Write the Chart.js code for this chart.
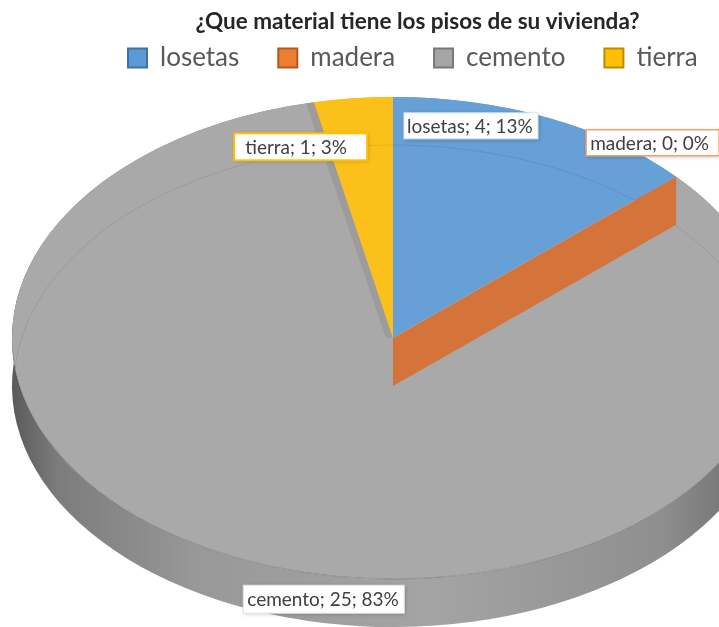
<!DOCTYPE html>
<html>
<head>
<meta charset="utf-8">
<script src="https://cdn.jsdelivr.net/npm/chart.js@4"></script>
<style>
  html, body { margin: 0; padding: 0; background: #ffffff; }
  #wrap { width: 719px; height: 627px; position: relative; overflow: hidden; }
</style>
</head>
<body>
<div id="wrap"><canvas id="c"></canvas></div>
<script>
// ---- data ----
const categories = ['losetas', 'madera', 'cemento', 'tierra'];
const counts = [4, 0, 25, 1];
const titleText = '¿Que material tiene los pisos de su vivienda?';

// ---- styles ----
const topColors = ['#66a0d6', '#ed7d31', '#a9a9a9', '#fcc01b'];
const legendFill = ['#5b9bd5', '#ed7d31', '#a5a5a5', '#ffc000'];
const legendBorder = ['#41719c', '#ae5a21', '#787878', '#bc8c00'];
const geom = { cx: 393, cy: 338, rx: 381, ry: 241, depth: 48 };
const labelStyles = [
  { nudge: [-77, 8], w: 134, h: 26, border: '#dbe6f1', bw: 1, pad: 3 },
  { nudge: [-23.5, -34], w: 133, h: 26, border: '#f2a26a', bw: 1.5, pad: 4 },
  { nudge: [48.5, 32], w: 161, h: 28, border: '#e4e4e4', bw: 1, pad: 4 },
  { nudge: [-52.5, 48.5], w: 133, h: 27, border: '#ffc000', bw: 2, pad: 11 }
];
const labelFont = '19px Lato';
const labelColor = '#404040';

const total = counts.reduce((a, b) => a + b, 0);

function ellPt(a, dy) {
  return [geom.cx + geom.rx * Math.cos(a), geom.cy + geom.ry * Math.sin(a) + (dy || 0)];
}

const pie3d = {
  id: 'pie3d',
  beforeDatasetsDraw(chart) {
    const ctx = chart.ctx;
    const arcs = chart.getDatasetMeta(0).data;
    const T = geom.depth;
    ctx.save();
    const g = ctx.createLinearGradient(geom.cx - geom.rx, 0, geom.cx + geom.rx, 0);
    g.addColorStop(0, '#5a5a5a');
    g.addColorStop(0.06, '#7c7c7c');
    g.addColorStop(0.25, '#999999');
    g.addColorStop(0.55, '#a4a4a4');
    g.addColorStop(0.85, '#8f8f8f');
    g.addColorStop(1, '#666666');
    arcs.forEach((arc, i) => {
      if (arc.endAngle - arc.startAngle <= 0) return;
      ctx.beginPath();
      ctx.ellipse(geom.cx, geom.cy, geom.rx, geom.ry, 0, arc.startAngle, arc.endAngle);
      ctx.ellipse(geom.cx, geom.cy + T, geom.rx, geom.ry, 0, arc.endAngle, arc.startAngle, true);
      ctx.closePath();
      ctx.fillStyle = i === 2 ? g : topColors[i];
      ctx.fill();
    });
    ctx.restore();
    const a0 = arcs[0];
    const R = a0.outerRadius;
    ctx.save();
    ctx.translate(geom.cx, geom.cy);
    ctx.scale(geom.rx / R, geom.ry / R);
    ctx.translate(-a0.x, -a0.y);
  },
  afterDatasetsDraw(chart) {
    const ctx = chart.ctx;
    ctx.restore();
    const arcs = chart.getDatasetMeta(0).data;
    const T = geom.depth;
    ctx.save();
    ctx.beginPath();
    ctx.ellipse(geom.cx, geom.cy, geom.rx, geom.ry, 0, 0, Math.PI * 2);
    ctx.save();
    ctx.clip();
    ctx.beginPath();
    ctx.ellipse(geom.cx, geom.cy + T, geom.rx - 2, geom.ry, 0, Math.PI, Math.PI * 2);
    ctx.strokeStyle = 'rgba(0,0,0,0.08)';
    ctx.lineWidth = 1;
    ctx.stroke();
    const t = arcs[3];
    const [tx, ty] = ellPt(t.startAngle);
    ctx.beginPath();
    ctx.moveTo(geom.cx, geom.cy);
    ctx.lineTo(tx, ty);
    ctx.lineTo(tx - 8, ty);
    ctx.lineTo(geom.cx - 7, geom.cy);
    ctx.closePath();
    ctx.fillStyle = '#9d9c98';
    ctx.fill();
    ctx.restore();
    ctx.beginPath();
    ctx.ellipse(geom.cx, geom.cy, geom.rx, geom.ry, 0, 0.05, Math.PI - 0.05);
    ctx.strokeStyle = 'rgba(0,0,0,0.18)';
    ctx.lineWidth = 1;
    ctx.stroke();
    const m = arcs[1];
    const [ex, ey] = ellPt(m.startAngle);
    ctx.beginPath();
    ctx.moveTo(geom.cx, geom.cy);
    ctx.lineTo(ex, ey);
    ctx.lineTo(ex, ey + T);
    ctx.lineTo(geom.cx, geom.cy + T);
    ctx.closePath();
    ctx.fillStyle = '#d4743a';
    ctx.fill();
    ctx.restore();
  },
  afterDraw(chart) {
    const ctx = chart.ctx;
    const arcs = chart.getDatasetMeta(0).data;
    ctx.save();
    ctx.font = labelFont;
    arcs.forEach((arc, i) => {
      const st = labelStyles[i];
      const mid = (arc.startAngle + arc.endAngle) / 2;
      const [px, py] = ellPt(mid);
      const bx = px + st.nudge[0] - st.w / 2;
      const by = py + st.nudge[1] - st.h / 2;
      const pct = Math.round(counts[i] / total * 100);
      const txt = categories[i] + '; ' + counts[i] + '; ' + pct + '%';
      ctx.save();
      ctx.shadowColor = 'rgba(0,0,0,0.22)';
      ctx.shadowBlur = 4;
      ctx.shadowOffsetX = 1;
      ctx.shadowOffsetY = 1;
      ctx.fillStyle = '#ffffff';
      ctx.fillRect(bx, by, st.w, st.h);
      ctx.restore();
      ctx.strokeStyle = st.border;
      ctx.lineWidth = st.bw;
      ctx.strokeRect(bx, by, st.w, st.h);
      ctx.fillStyle = labelColor;
      ctx.textBaseline = 'middle';
      ctx.textAlign = 'left';
      ctx.fillText(txt, bx + st.pad, by + st.h / 2 + 1);
    });
    ctx.restore();
  }
};

new Chart(document.getElementById('c'), {
  type: 'pie',
  data: {
    labels: categories,
    datasets: [{
      data: counts,
      backgroundColor: topColors,
      borderWidth: 0
    }]
  },
  options: {
    responsive: true,
    maintainAspectRatio: false,
    animation: false,
    events: [],
    layout: { padding: { left: 89, right: -27, bottom: 20 } },
    plugins: {
      tooltip: { enabled: false },
      title: {
        display: true,
        text: titleText,
        color: '#262626',
        font: { family: 'Lato', size: 22.5, weight: 'bold' },
        padding: { top: 8, bottom: -29 }
      },
      legend: {
        position: 'top',
        align: 'start',
        labels: {
          font: { family: 'Lato', size: 26 },
          color: '#595959',
          boxWidth: 19,
          boxHeight: 19,
          padding: 39,
          generateLabels: () => categories.map((c, i) => ({
            text: c,
            fillStyle: legendFill[i],
            strokeStyle: legendBorder[i],
            lineWidth: 2,
            hidden: false,
            index: i,
            fontColor: '#595959'
          }))
        }
      }
    }
  },
  plugins: [pie3d]
});
</script>
</body>
</html>
